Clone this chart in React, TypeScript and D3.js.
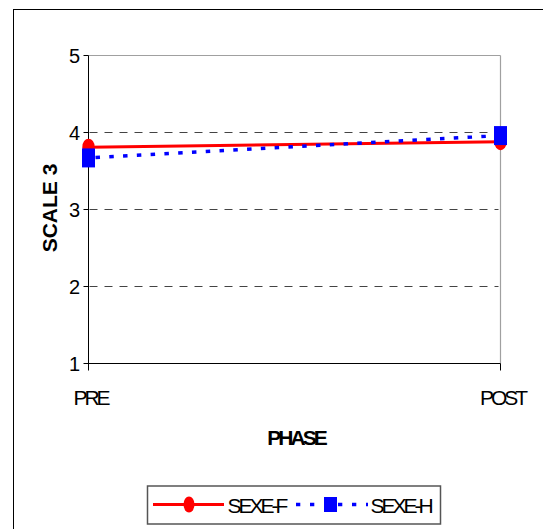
import React from "react";
import * as d3 from "d3";

const phases = ["PRE", "POST"];
const sexeF = [3.81, 3.88];
const sexeH = [3.67, 3.96];
const yTicks = [1, 2, 3, 4, 5];
const gridTicks = [2, 3, 4];

const W = 543;
const H = 529;
const FONT = "'Liberation Sans', Arial, sans-serif";

export default function App() {
  const x = d3.scalePoint<string>().domain(phases).range([88.5, 500.5]);
  const y = d3.scaleLinear().domain([1, 5]).range([363.5, 55.5]);

  const line = d3
    .line<number>()
    .x((_, i) => x(phases[i]) as number)
    .y((d) => y(d));

  const left = x(phases[0]) as number;
  const right = x(phases[phases.length - 1]) as number;
  const top = y(5);
  const bottom = y(1);

  const circle = (cx: number, cy: number, key: string, ry = 8.5) => (
    <ellipse key={key} cx={cx} cy={cy} rx={6.2} ry={ry} fill="#ff0000" />
  );
  const square = (cx: number, cy: number, key: string, w = 13, h = 19) => (
    <rect key={key} x={cx - w / 2} y={cy - h / 2} width={w} height={h} fill="#0000ff" />
  );

  return (
    <svg
      width={W}
      height={H}
      style={{ position: "absolute", left: 0, top: 0, background: "#fff" }}
      fontFamily={FONT}
    >
      <rect x={0} y={0} width={W} height={H} fill="#fff" />
      {/* outer chart frame */}
      <rect x={13.5} y={9.5} width={W} height={H} fill="none" stroke="#000" strokeWidth={1} />

      {/* plot area border */}
      <line x1={left} x2={right} y1={top} y2={top} stroke="#a0a0a0" strokeWidth={1} />
      <line x1={right} x2={right} y1={top} y2={bottom} stroke="#a0a0a0" strokeWidth={1.2} />

      {/* dashed gridlines */}
      {gridTicks.map((t) => (
        <line
          key={t}
          x1={left + 1}
          x2={right - 2}
          y1={y(t)}
          y2={y(t)}
          stroke="#444"
          strokeWidth={1}
          strokeDasharray="8 7"
        />
      ))}

      {/* y axis */}
      <line x1={left} x2={left} y1={top} y2={bottom + 7} stroke="#000" strokeWidth={1} />
      {yTicks.map((t) => (
        <g key={t}>
          <line x1={left - 5} x2={left} y1={y(t)} y2={y(t)} stroke="#000" strokeWidth={1} />
          <text x={80} y={y(t) + 7} textAnchor="end" fontSize={20} fill="#000">
            {t}
          </text>
        </g>
      ))}

      {/* x axis */}
      <line x1={left} x2={right} y1={bottom} y2={bottom} stroke="#000" strokeWidth={1} />
      <line x1={right} x2={right} y1={bottom} y2={bottom + 7} stroke="#000" strokeWidth={1} />
      {phases.map((p) => (
        <text
          key={p}
          x={(x(p) as number) + 2}
          y={405}
          textAnchor="middle"
          fontSize={21}
          letterSpacing={-3}
          fill="#000"
        >
          {p}
        </text>
      ))}

      {/* axis titles */}
      <text
        transform="translate(57,208) rotate(-90)"
        textAnchor="middle"
        fontSize={21}
        fontWeight="bold"
        fill="#000"
      >
        SCALE 3
      </text>
      <text x={296} y={445} textAnchor="middle" fontSize={21} fontWeight="bold" letterSpacing={-3} fill="#000">
        PHASE
      </text>

      {/* SEXE-F series */}
      <path d={line(sexeF) || ""} fill="none" stroke="#ff0000" strokeWidth={3} />
      {sexeF.map((v, i) => circle(x(phases[i]) as number, y(v), `f${i}`))}

      {/* SEXE-H series */}
      <path
        d={line(sexeH) || ""}
        fill="none"
        stroke="#0000ff"
        strokeWidth={3.5}
        strokeDasharray="4.5 9.3"
        strokeDashoffset={-7}
      />
      {sexeH.map((v, i) => square(x(phases[i]) as number, y(v), `h${i}`))}

      {/* legend */}
      <rect x={147.5} y={486} width={293} height={38} fill="#fff" stroke="#555" strokeWidth={1.5} />
      <line x1={153} x2={224} y1={504.5} y2={504.5} stroke="#ff0000" strokeWidth={3} />
      <ellipse cx={189} cy={504.5} rx={5.5} ry={8} fill="#ff0000" />
      <text x={227.5} y={512.5} fontSize={21} letterSpacing={-3} fill="#000">
        SEXE-F
      </text>
      <line
        x1={296}
        x2={368}
        y1={504.5}
        y2={504.5}
        stroke="#0000ff"
        strokeWidth={3.5}
        strokeDasharray="4.3 9.7"
      />
      <rect x={324} y={497} width={13} height={15} fill="#0000ff" />
      <text x={370.5} y={512.5} fontSize={21} letterSpacing={-3} fill="#000">
        SEXE-H
      </text>
    </svg>
  );
}
